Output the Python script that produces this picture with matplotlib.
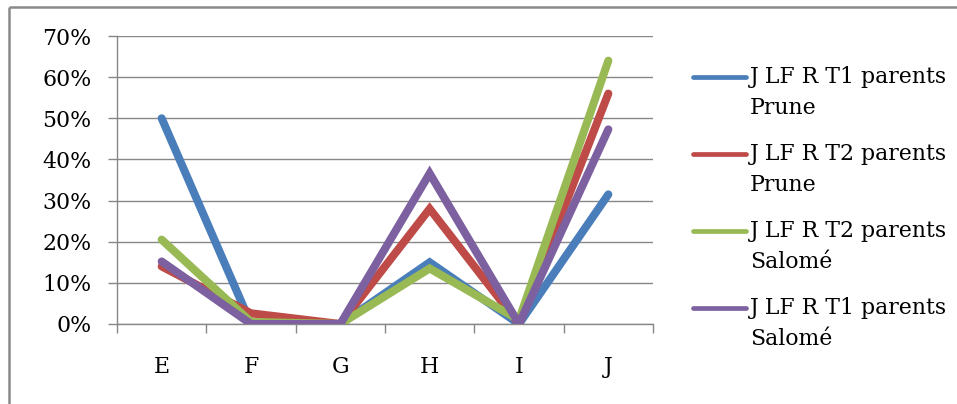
import matplotlib
matplotlib.use("Agg")
import matplotlib.pyplot as plt
from matplotlib.lines import Line2D
import numpy as np

categories = ["E", "F", "G", "H", "I", "J"]
series_labels = [
    "J LF R T1 parents\nPrune",
    "J LF R T2 parents\nPrune",
    "J LF R T2 parents\nSalomé",
    "J LF R T1 parents\nSalomé",
]
t1_prune = [0.50, 0.00, 0.00, 0.15, 0.00, 0.315]
t2_prune = [0.14, 0.026, 0.00, 0.28, 0.00, 0.56]
t2_salome = [0.205, 0.005, 0.00, 0.135, 0.01, 0.64]
t1_salome = [0.152, 0.00, 0.00, 0.366, 0.00, 0.473]
series_values = [t1_prune, t2_prune, t2_salome, t1_salome]
colors = ["#4A7EBB", "#BE4B48", "#98B954", "#7D60A0"]
y_ticks = [0.0, 0.1, 0.2, 0.3, 0.4, 0.5, 0.6, 0.7]
y_tick_labels = ["0%", "10%", "20%", "30%", "40%", "50%", "60%", "70%"]

W, H = 957, 404
fig = plt.figure(figsize=(W / 100, H / 100), dpi=100)
plt.rcParams["font.family"] = ["DejaVu Serif"]
grid_col = "#878787"
fs = 15.8

# plot area in pixels
left, right, top, bottom = 117, 653, 36, 324
ax = fig.add_axes([left / W, 1 - bottom / H, (right - left) / W, (bottom - top) / H])

x = np.arange(len(categories)) + 0.5
for vals, col in zip(series_values, colors):
    ax.plot(x, vals, color=col, lw=5.8, solid_joinstyle="miter",
            solid_capstyle="round", zorder=3)

ax.set_xlim(0, len(categories))
ax.set_ylim(0, 0.7)
ax.set_yticks(y_ticks)
ax.set_yticklabels(y_tick_labels, fontsize=fs)
ax.set_xticks(np.arange(len(categories) + 1))
ax.set_xticklabels([])
ax.set_xticks(x, minor=True)
ax.set_xticklabels(categories, minor=True, fontsize=fs)
ax.tick_params(axis="x", which="major", length=6.5, width=1, color=grid_col, direction="out")
ax.tick_params(axis="x", which="minor", length=0, pad=23)
ax.tick_params(axis="y", length=6.5, width=1, color=grid_col, pad=12)
ax.grid(axis="y", color=grid_col, lw=1.0, zorder=0)
for s in ["top", "right"]:
    ax.spines[s].set_visible(False)
for s in ["left", "bottom"]:
    ax.spines[s].set_color(grid_col)
    ax.spines[s].set_linewidth(1.0)
ax.set_axisbelow(True)

# outer chart border (top and left edges)
fig.add_artist(Line2D([9 / W, 1.01], [1 - 7 / H, 1 - 7 / H], color="#8a8a8a", lw=1.8,
                      solid_capstyle="butt", transform=fig.transFigure))
fig.add_artist(Line2D([9 / W, 9 / W], [-0.01, 1 - 7 / H], color="#8a8a8a", lw=1.8,
                      solid_capstyle="butt", transform=fig.transFigure))

# legend
for i, (lab, col) in enumerate(zip(series_labels, colors)):
    yc = 77 + i * 77
    fig.add_artist(Line2D([693 / W, 746 / W], [1 - yc / H, 1 - yc / H], color=col, lw=3.4,
                          solid_capstyle="round", transform=fig.transFigure))
    fig.text(750 / W, 1 - (yc - 11) / H, lab, fontsize=fs, va="top", ha="left",
             linespacing=1.55)

fig.savefig("out.png", dpi=100, facecolor="white")
